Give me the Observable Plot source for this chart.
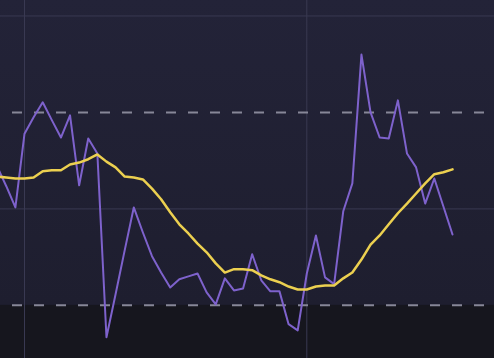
<!DOCTYPE html>
<html>
<head>
<meta charset="utf-8">
<script src="https://cdn.jsdelivr.net/npm/d3@7"></script>
<script src="https://cdn.jsdelivr.net/npm/@observablehq/plot@0.6"></script>
<style>
  html, body { margin: 0; padding: 0; background: #16161e; }
  #chart { width: 494px; height: 358px; overflow: hidden; }
  svg { display: block; }
</style>
</head>
<body>
<div id="chart"></div>
<script>
// Period index (bar number), oscillator values and its moving average
const periods = d3.range(-3, 48);
const rsi = [58.8, 54.7, 50.3,
  65.6, 69.0, 72.1, 68.4, 64.8, 69.4, 54.9, 64.6, 61.5, 23.4,
  32.3, 41.4, 50.3, 45.1, 40.2, 36.8, 33.7, 35.4, 36.0, 36.6,
  32.7, 30.2, 35.6, 33.1, 33.5, 40.6, 35.2, 32.9, 32.9, 26.1,
  24.8, 36.6, 44.5, 35.8, 34.4, 49.5, 55.3, 82.0, 70.0, 64.8,
  64.6, 72.5, 61.5, 58.6, 51.1, 56.3, 50.5, 44.7];
const rsiMA = [56.7, 56.5, 56.3,
  56.3, 56.5, 57.8, 58.0, 58.0, 59.2, 59.6, 60.3, 61.3, 59.8,
  58.6, 56.7, 56.5, 56.1, 54.2, 52.0, 49.3, 46.8, 44.9, 42.8,
  41.0, 38.7, 36.8, 37.5, 37.5, 37.3, 36.2, 35.4, 34.8, 33.9,
  33.3, 33.3, 33.9, 34.1, 34.1, 35.6, 36.8, 39.5, 42.6, 44.5,
  46.8, 49.1, 51.1, 53.2, 55.3, 57.2, 57.6, 58.2];
const gridY = [90, 50];
const levels = [70, 30];
const gridX = [0, 31];

const xDomain = [-2.636, 51.61];
const yDomain = [18.98, 93.21];

const data = periods.map((p, i) => ({p, rsi: rsi[i], ma: rsiMA[i]}));

const chart = Plot.plot({
  width: 494,
  height: 358,
  margin: 0,
  x: {domain: xDomain, axis: null},
  y: {domain: yDomain, axis: null},
  style: {
    background: "linear-gradient(to bottom, #232338 0%, #1e1e2f 85%)",
    overflow: "hidden"
  },
  marks: [
    Plot.rect([{}], {x1: xDomain[0], x2: xDomain[1], y1: yDomain[0], y2: levels[1], fill: "#16161e"}),
    Plot.ruleY(gridY, {stroke: "#393952", strokeWidth: 1}),
    Plot.ruleX(gridX, {stroke: "#393952", strokeWidth: 1}),
    Plot.ruleY(levels, {stroke: "#878798", strokeWidth: 2, strokeDasharray: "10,12", strokeDashoffset: 10}),
    Plot.line(data, {x: "p", y: "rsi", stroke: "#7e62cc", strokeWidth: 2, curve: "linear"}),
    Plot.line(data, {x: "p", y: "ma", stroke: "#ecd050", strokeWidth: 2.5, curve: "linear"})
  ]
});
document.getElementById("chart").appendChild(chart);
</script>
</body>
</html>
